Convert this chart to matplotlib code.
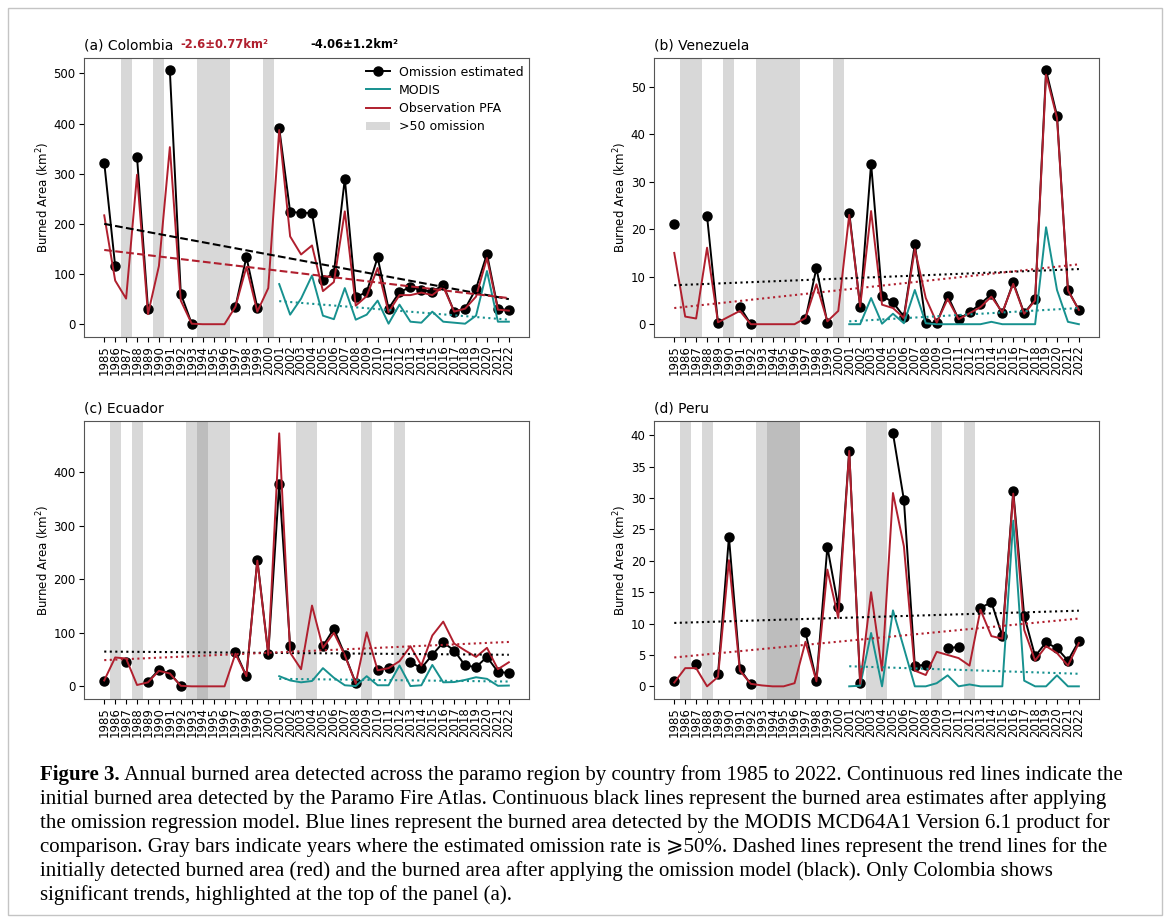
import matplotlib
matplotlib.use("Agg")
import matplotlib.pyplot as plt
import matplotlib.patches as mpatches
from matplotlib.lines import Line2D
import numpy as np

nan = np.nan
YEARS = list(range(1985, 2023))
MODIS_YEARS = list(range(2001, 2023))

# Colombia
col_omission = [322, 116, nan, 333, 31, nan, 506, 61, 1, nan, nan, nan, 35, 134, 33, nan,
                391, 224, 222, 222, 88, 102, 290, 54, 64, 133, 31, 64, 74, 68, 65, 78, 25, 31, 71, 140, 31, 28]
col_pfa = [217, 87, 51, 298, 20, 116, 353, 47, 1, 0, 0, 0, 35, 114, 25, 72,
           387, 175, 139, 157, 66, 84, 225, 37, 56, 112, 24, 58, 58, 63, 58, 75, 25, 31, 55, 132, 29, 27]
col_modis = [80, 19, 51, 97, 17, 10, 72, 9, 19, 47, 1, 39, 5, 3, 25, 5, 3, 1, 17, 106, 5, 5]
col_gaps = [1987, 1990, 1994, 1995, 1996, 2000]
col_gaps_double = []
col_trend_omission = [200, 50]
col_trend_pfa = [148, 52]
col_trend_modis = [46, 9]

# Venezuela
ven_omission = [21.1, nan, nan, 22.7, 0.2, nan, 3.65, 0, nan, nan, nan, nan, 1.1, 11.8, 0.3, nan,
                23.5, 3.7, 33.8, 6.0, 4.6, 1.6, 16.8, 0.35, 0.2, 6.0, 1.05, 2.5, 4.3, 6.3, 2.3, 8.8, 2.3, 5.2,
                53.4, 43.9, 7.2, 3.0]
ven_pfa = [15.0, 1.6, 1.2, 16.1, 0.4, 1.6, 2.8, 0, 0, 0, 0, 0, 1.3, 8.4, 0.6, 2.8,
           23.0, 3.7, 23.8, 4.1, 3.4, 1.3, 15.8, 5.5, 0.35, 5.3, 1.05, 2.3, 3.6, 5.8, 2.5, 8.5, 2.2, 5.0,
           52.5, 43.4, 7.1, 3.0]
ven_modis = [0, 0, 5.5, 0.1, 2.2, 0.2, 7.2, 0.2, 0, 0, 0, 0, 0, 0.5, 0, 0, 0, 0, 20.4, 7.2, 0.5, 0]
ven_gaps = [1986, 1987, 1990, 1993, 1994, 1995, 1996, 2000]
ven_gaps_double = []
ven_trend_omission = [8.2, 11.6]
ven_trend_pfa = [3.4, 12.6]
ven_trend_modis = [0.6, 3.4]

# Ecuador
ecu_omission = [10.6, nan, 46, nan, 8.7, 31, 24, 1.2, nan, nan, nan, nan, 65, 19, 237, 61,
                378, 75, nan, nan, 75, 108, 59, 6, nan, 31, 34, nan, 45, 34, 59, 82, 67, 39, 36, 55, 27, 25]
ecu_pfa = [11, 54, 52, 2.5, 7.5, 29, 24, 1, 0, 0, 0, 0, 61, 19, 235, 59,
           473, 63, 32, 151, 72, 100, 58, 5, 101, 30, 34, 47, 75, 39, 95, 121, 80, 67, 55, 72, 32, 45]
ecu_modis = [19, 11, 7.5, 10, 34, 16, 2, 0.5, 19, 2, 2, 39, 0.5, 2, 40, 7.5, 8, 12, 17, 14, 1, 1.5]
ecu_gaps = [1986, 1988, 1993, 1994, 1995, 1996, 2003, 2004, 2009, 2012]
ecu_gaps_double = [1994]
ecu_trend_omission = [65, 59]
ecu_trend_pfa = [49, 83]
ecu_trend_modis = [14, 9]

# Peru
per_omission = [0.8, nan, 3.6, nan, 1.9, 23.8, 2.8, 0.3, nan, nan, nan, nan, 8.6, 0.9, 22.2, 12.7,
                37.5, 0.6, nan, nan, 40.3, 29.7, 3.3, 3.4, nan, 6.05, 6.3, nan, 12.5, 13.4, 8.0, 31.1, 11.2,
                4.8, 7.0, 6.05, 4.1, 7.2]
per_pfa = [0.6, 2.9, 2.9, 0, 1.5, 20.1, 2.5, 0.4, 0.15, 0, 0, 0.5, 7.1, 0.8, 18.6, 10.9,
           37.5, 0.4, 15.0, 2.5, 30.8, 22.3, 2.5, 1.8, 5.5, 5.0, 4.5, 3.3, 12.2, 8.0, 7.6, 30.7, 9.0,
           4.1, 6.4, 5.3, 3.3, 6.9]
per_modis = [0, 0.1, 8.5, 0, 12.1, 6.1, 0, 0, 0.5, 1.75, 0, 0.3, 0, 0, 0, 26.4, 0.9, 0, 0, 1.75, 0, 0]
per_gaps = [1986, 1988, 1993, 1994, 1995, 1996, 2003, 2004, 2009, 2012]
per_gaps_double = [1994, 1995, 1996]
per_trend_omission = [10.1, 12.05]
per_trend_pfa = [4.6, 10.8]
per_trend_modis = [3.2, 2.0]

BLACK = "black"
RED = "#b01f2e"
TEAL = "#17918f"

fig = plt.figure(figsize=(11.7, 9.23), dpi=100)

panels = [
    ("(a) Colombia", [0.0718, 0.635, 0.3804, 0.3025], col_omission, col_pfa, col_modis, col_gaps,
     col_gaps_double, col_trend_omission, col_trend_pfa, col_trend_modis, "--"),
    ("(b) Venezuela", [0.5590, 0.635, 0.3804, 0.3025], ven_omission, ven_pfa, ven_modis, ven_gaps,
     ven_gaps_double, ven_trend_omission, ven_trend_pfa, ven_trend_modis, ":"),
    ("(c) Ecuador", [0.0718, 0.2427, 0.3804, 0.3015], ecu_omission, ecu_pfa, ecu_modis, ecu_gaps,
     ecu_gaps_double, ecu_trend_omission, ecu_trend_pfa, ecu_trend_modis, ":"),
    ("(d) Peru", [0.5590, 0.2427, 0.3804, 0.3015], per_omission, per_pfa, per_modis, per_gaps,
     per_gaps_double, per_trend_omission, per_trend_pfa, per_trend_modis, ":"),
]

axes = []
for (title, rect, omission, pfa, modis, gaps, gaps_double,
     tr_om, tr_pfa, tr_mod, trend_style) in panels:
    ax = fig.add_axes(rect)
    axes.append(ax)
    for yr in gaps:
        ax.axvspan(yr - 0.5, yr + 0.5, color="gray", alpha=0.3, lw=0)
    for yr in gaps_double:
        ax.axvspan(yr - 0.5, yr + 0.5, color="gray", alpha=0.3, lw=0)

    ax.plot(YEARS, np.array(omission, dtype=float), color=BLACK, marker="o", markersize=6.5,
            lw=1.4, zorder=3)
    ax.plot(MODIS_YEARS, modis, color=TEAL, lw=1.4, zorder=3)
    ax.plot(YEARS, pfa, color=RED, lw=1.4, zorder=4)

    ax.plot([YEARS[0], YEARS[-1]], tr_om, color=BLACK, ls=trend_style, lw=1.5, zorder=5)
    ax.plot([YEARS[0], YEARS[-1]], tr_pfa, color=RED, ls=trend_style, lw=1.5, zorder=5)
    ax.plot([MODIS_YEARS[0], MODIS_YEARS[-1]], tr_mod, color=TEAL, ls=":", lw=1.5, zorder=5)

    ax.set_xticks(YEARS)
    ax.set_xticklabels([str(y) for y in YEARS], rotation=90, fontsize=8.5)
    ax.tick_params(axis="y", labelsize=8.5, pad=2.5)
    ax.tick_params(axis="x", pad=2.5)
    ax.set_ylabel("Burned Area (km$^2$)", fontsize=8.5, labelpad=1)
    ax.set_title(title, loc="left", fontsize=10)
    for sp in ax.spines.values():
        sp.set_color("#555555")

# legend and significant trends only on Colombia
ax0 = axes[0]
handles = [
    Line2D([], [], color=BLACK, marker="o", markersize=6.5, lw=1.4, label="Omission estimated"),
    Line2D([], [], color=TEAL, lw=1.4, label="MODIS"),
    Line2D([], [], color=RED, lw=1.4, label="Observation PFA"),
    mpatches.Patch(color="gray", alpha=0.3, lw=0, label=">50 omission"),
]
ax0.legend(handles=handles, loc="upper right", frameon=False, fontsize=9,
           bbox_to_anchor=(1.012, 1.012), handlelength=1.9, handletextpad=0.7, labelspacing=0.42)
ax0.text(0.315, 1.048, "-2.6±0.77km²", transform=ax0.transAxes, color=RED,
         fontsize=8.3, fontweight="bold", ha="center", va="center")
ax0.text(0.607, 1.048, "-4.06±1.2km²", transform=ax0.transAxes, color=BLACK,
         fontsize=8.3, fontweight="bold", ha="center", va="center")

# outer frame
fig.patches.append(mpatches.Rectangle((0.007, 0.009), 0.986, 0.982, transform=fig.transFigure,
                                      fill=False, edgecolor="#c4c4c4", lw=1.0))

caption_lines = [
    " Annual burned area detected across the paramo region by country from 1985 to 2022. Continuous red lines indicate the",
    "initial burned area detected by the Paramo Fire Atlas. Continuous black lines represent the burned area estimates after applying",
    "the omission regression model. Blue lines represent the burned area detected by the MODIS MCD64A1 Version 6.1 product for",
    "comparison. Gray bars indicate years where the estimated omission rate is ⩾50%. Dashed lines represent the trend lines for the",
    "initially detected burned area (red) and the burned area after applying the omission model (black). Only Colombia shows",
    "significant trends, highlighted at the top of the panel (a).",
]
cap_family = ["Liberation Serif", "DejaVu Serif", "DejaVu Sans"]
cap_size = 15.0
x0 = 40 / 1170
line_y = [775, 799, 823, 847, 871, 895]

fig.canvas.draw()
renderer = fig.canvas.get_renderer()
bold = fig.text(x0, 1 - line_y[0] / 923, "Figure 3.", fontsize=cap_size, family=cap_family,
                fontweight="bold", va="center", ha="left")
bb = bold.get_window_extent(renderer=renderer)
fig.text(bb.x1 / fig.bbox.width, 1 - line_y[0] / 923, caption_lines[0], fontsize=cap_size,
         family=cap_family, va="center", ha="left")
for yy, line in zip(line_y[1:], caption_lines[1:]):
    fig.text(x0, 1 - yy / 923, line, fontsize=cap_size, family=cap_family, va="center", ha="left")

fig.savefig("out.png", dpi=100)
